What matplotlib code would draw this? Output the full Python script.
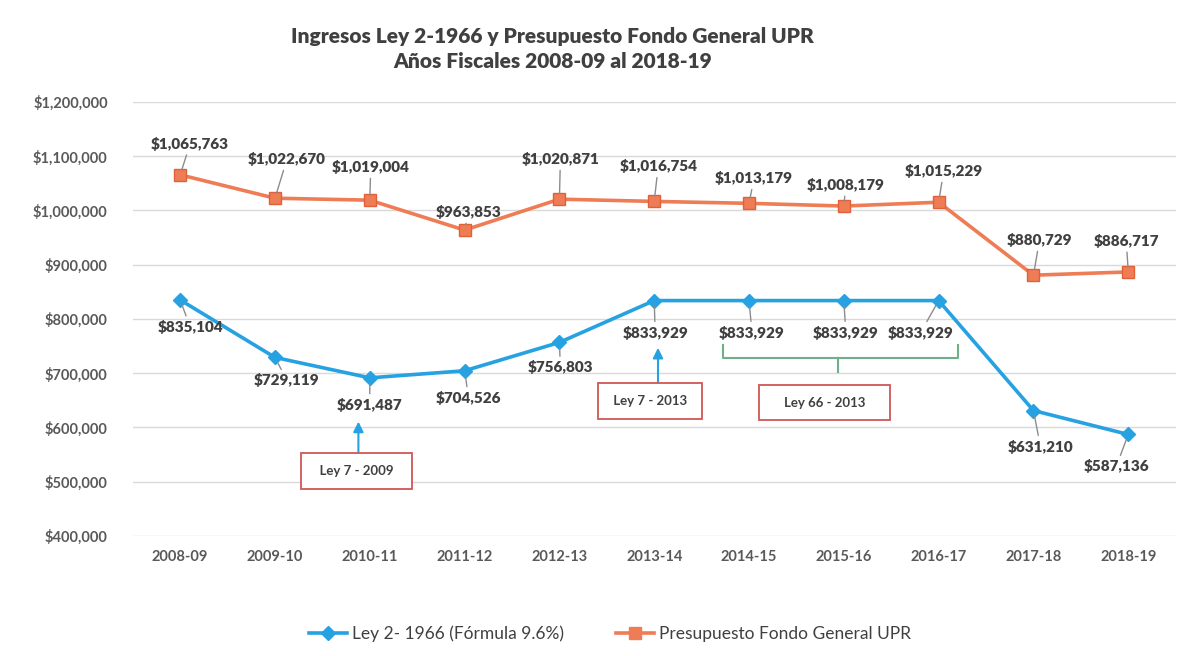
import matplotlib
matplotlib.use("Agg")
import matplotlib.pyplot as plt
from matplotlib.ticker import FuncFormatter, MultipleLocator
from matplotlib.lines import Line2D

plt.rcParams['font.family'] = ['Lato', 'DejaVu Sans']

categories = ["2008-09", "2009-10", "2010-11", "2011-12", "2012-13", "2013-14",
              "2014-15", "2015-16", "2016-17", "2017-18", "2018-19"]
ley2 = [835104, 729119, 691487, 704526, 756803, 833929, 833929, 833929, 833929, 631210, 587136]
presupuesto = [1065763, 1022670, 1019004, 963853, 1020871, 1016754, 1013179, 1008179,
               1015229, 880729, 886717]
series_names = ["Ley 2- 1966 (Fórmula 9.6%)", "Presupuesto Fondo General UPR"]
title_text = "Ingresos Ley 2-1966 y Presupuesto Fondo General UPR\nAños Fiscales 2008-09 al 2018-19"

# label offsets in pixels (styling)
off_orange = [(10, 31), (12, 39), (1, 33), (4, 18), (1, 40), (4, 35), (5, 25), (2, 21), (5, 31), (6, 35), (-2, 31)]
off_blue = [(10, -27), (12, -23), (0, -27), (4, -27), (1, -25), (1, -32), (3, -32), (2, -32), (-18, -32), (7, -36), (-12, -32)]

BLUE = "#26A2E2"
ORANGE = "#EE7C55"
TXT = "#404040"
TICK = "#595959"
BOXEDGE = "#D25656"
GREEN = "#6FB08A"

fig = plt.figure(figsize=(11.96, 6.56), dpi=100)
fig.patch.set_facecolor("white")
ax = fig.add_axes([0.111, 0.183, 0.872, 0.6615])
x = list(range(len(categories)))

ax.plot(x, ley2, color=BLUE, lw=2.6, marker="D", ms=7, mfc=BLUE, mec=BLUE, zorder=3)
ax.plot(x, presupuesto, color=ORANGE, lw=2.6, marker="s", ms=8, mfc=ORANGE, mec="#E0603A", zorder=3)

ax.set_xlim(-0.5, len(categories) - 0.5)
ax.set_ylim(400000, 1200000)
ax.yaxis.set_major_locator(MultipleLocator(100000))
ax.yaxis.set_major_formatter(FuncFormatter(lambda v, p: "${:,.0f}".format(v)))
ax.set_xticks(x)
ax.set_xticklabels(categories)
ax.grid(axis="y", color="#D9D9D9", lw=1)
ax.set_axisbelow(True)
for s in ax.spines.values():
    s.set_visible(False)
ax.tick_params(axis="both", length=0, colors=TICK, labelsize=10.5)
ax.tick_params(axis="x", pad=10)
ax.tick_params(axis="y", pad=18)
for lab in ax.get_xticklabels() + ax.get_yticklabels():
    lab.set_fontweight("bold")

def label(xi, yi, off):
    ax.annotate("${:,.0f}".format(yi), xy=(xi, yi), xytext=off, textcoords="offset pixels",
                ha="center", va="center", fontsize=11, fontweight="heavy", color=TXT,
                arrowprops=dict(arrowstyle="-", color="#8C8C8C", lw=1, shrinkA=1, shrinkB=4),
                zorder=4)

for i in x:
    label(i, presupuesto[i], off_orange[i])
    label(i, ley2[i], off_blue[i])

box = dict(boxstyle="square,pad=0.9", fc="white", ec=BOXEDGE, lw=1.3)
box2 = dict(boxstyle="square,pad=0.9", fc="white", ec=BOXEDGE, lw=1.3)
ax.annotate("", xy=(1.88, 616000), xytext=(1.88, 543000),
            arrowprops=dict(arrowstyle="-|>,head_width=0.3,head_length=0.6", color=BLUE, lw=1.5))
ax.text(1.86, 520000, "  Ley 7 - 2009  ", ha="center", va="center", fontsize=9.5,
        fontweight="bold", color=TXT, bbox=box, zorder=5)
ax.annotate("", xy=(5.04, 752000), xytext=(5.04, 672000),
            arrowprops=dict(arrowstyle="-|>,head_width=0.3,head_length=0.6", color=BLUE, lw=1.5))
ax.text(4.96, 649000, " Ley 7 - 2013 ", ha="center", va="center", fontsize=9.5,
        fontweight="bold", color=TXT, bbox=box, zorder=5)
ax.text(6.80, 646000, "    Ley 66 - 2013    ", ha="center", va="center", fontsize=9.5,
        fontweight="bold", color=TXT, bbox=box2, zorder=5)

# brace
bx0, bx1, bxc = 5.73, 8.20, 6.94
ax.plot([bx0, bx0, bx1, bx1], [752000, 728000, 728000, 752000], color=GREEN, lw=1.5)
ax.plot([bxc, bxc], [728000, 703000], color=GREEN, lw=1.5)

fig.text(0.462, 0.925, title_text, ha="center", va="center", fontsize=15,
         fontweight="heavy", color=TXT, linespacing=1.35)

handles = [Line2D([], [], color=BLUE, lw=2.6, marker="D", ms=7),
           Line2D([], [], color=ORANGE, lw=2.6, marker="s", ms=8)]
fig.legend(handles, series_names, loc="center", bbox_to_anchor=(0.51, 0.034), ncol=2,
           frameon=False, fontsize=12.5, labelcolor=TXT, handlelength=2.2, columnspacing=3,
           handletextpad=0.3)

fig.savefig("out.png", dpi=100, facecolor="white")
